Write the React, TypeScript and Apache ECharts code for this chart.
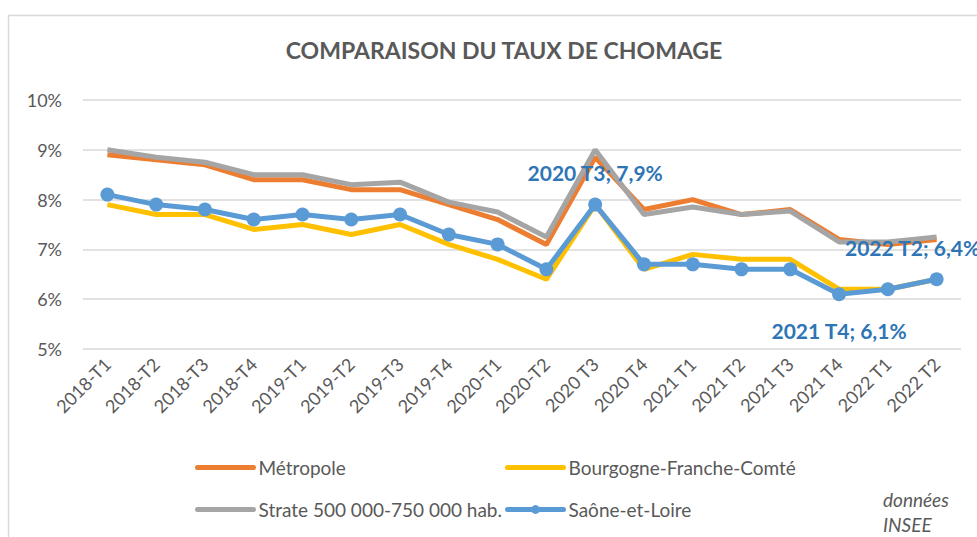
import React, { useEffect, useRef } from "react";
import * as echarts from "echarts";

const categories = [
  "2018-T1", "2018-T2", "2018-T3", "2018-T4",
  "2019-T1", "2019-T2", "2019-T3", "2019-T4",
  "2020-T1", "2020-T2", "2020 T3", "2020 T4",
  "2021 T1", "2021 T2", "2021 T3", "2021 T4",
  "2022 T1", "2022 T2",
];

const metropole = [8.9, 8.8, 8.7, 8.4, 8.4, 8.2, 8.2, 7.9, 7.6, 7.1, 8.85, 7.8, 8.0, 7.7, 7.8, 7.2, 7.1, 7.2];
const bfc = [7.9, 7.7, 7.7, 7.4, 7.5, 7.3, 7.5, 7.1, 6.8, 6.4, 7.9, 6.6, 6.9, 6.8, 6.8, 6.2, 6.2, 6.4];
const strate = [9.0, 8.85, 8.75, 8.5, 8.5, 8.3, 8.35, 7.95, 7.75, 7.25, 9.0, 7.7, 7.85, 7.7, 7.77, 7.15, 7.15, 7.25];
const saone = [8.1, 7.9, 7.8, 7.6, 7.7, 7.6, 7.7, 7.3, 7.1, 6.6, 7.9, 6.7, 6.7, 6.6, 6.6, 6.1, 6.2, 6.4];

const yTicks = [5, 6, 7, 8, 9, 10];

const labelled: Record<number, number[]> = {
  10: [0, -32],
  15: [0, 36],
  17: [-24, -32],
};

const FONT = "Lato, 'Liberation Sans', sans-serif";
const GREY_TEXT = "#595959";

export default function App() {
  const ref = useRef<HTMLDivElement>(null);

  useEffect(() => {
    if (!ref.current) return;
    const chart = echarts.init(ref.current, undefined, { renderer: "svg" });

    const saoneData = saone.map((v, i) => {
      if (labelled[i]) {
        return {
          value: v,
          label: {
            show: true,
            position: "inside",
            offset: labelled[i],
            formatter: () => `${categories[i]}; ${v.toFixed(1).replace(".", ",")}%`,
            color: "#2E75B6",
            fontSize: 21,
            fontWeight: "bold",
            fontFamily: FONT,
          },
        };
      }
      return v;
    });

    const legendBase = {
      itemWidth: 56,
      itemHeight: 11,
      padding: 0,
      textStyle: { color: GREY_TEXT, fontSize: 19, fontFamily: FONT },
      orient: "horizontal",
      lineStyle: { width: 5, cap: "round" },
    };
    const noSymbol = { opacity: 0 };

    chart.setOption({
      animation: false,
      backgroundColor: "#ffffff",
      textStyle: { fontFamily: FONT },
      title: {
        text: "COMPARAISON DU TAUX DE CHOMAGE",
        left: 499,
        top: 33,
        textAlign: "center",
        textStyle: { color: GREY_TEXT, fontSize: 23, fontWeight: "bold", fontFamily: FONT },
      },
      grid: { left: 83, right: 16, top: 100, bottom: 188, containLabel: false },
      xAxis: {
        type: "category",
        data: categories,
        boundaryGap: true,
        axisLine: { show: false },
        axisTick: { show: false },
        axisLabel: {
          rotate: 45,
          margin: 12,
          color: GREY_TEXT,
          fontSize: 18,
          fontFamily: FONT,
          interval: 0,
        },
      },
      yAxis: {
        type: "value",
        min: yTicks[0],
        max: yTicks[yTicks.length - 1],
        interval: 1,
        axisLine: { show: false },
        axisTick: { show: false },
        splitLine: { lineStyle: { color: "#d9d9d9", width: 1.5 } },
        axisLabel: {
          formatter: (v: number) => `${v}%`,
          color: GREY_TEXT,
          fontSize: 18,
          fontFamily: FONT,
          margin: 21,
        },
      },
      legend: [
        { ...legendBase, left: 195, top: 458, data: ["Métropole"], itemStyle: noSymbol },
        { ...legendBase, left: 505, top: 458, data: ["Bourgogne-Franche-Comté"], itemStyle: noSymbol },
        { ...legendBase, left: 195, top: 500, data: ["Strate 500 000-750 000 hab."], itemStyle: noSymbol },
        { ...legendBase, left: 505, top: 500, data: ["Saône-et-Loire"] },
      ],
      graphic: [
        {
          type: "rect",
          shape: { x: 8.5, y: 15.5, width: 1000, height: 600 },
          style: { fill: "none", stroke: "#d9d9d9", lineWidth: 1.5 },
          silent: true,
        },
        {
          type: "text",
          x: 883,
          y: 487,
          style: {
            text: "données\nINSEE",
            fill: GREY_TEXT,
            fontSize: 19,
            fontStyle: "italic",
            fontFamily: FONT,
            lineHeight: 25,
          },
        },
      ],
      series: [
        {
          name: "Métropole",
          type: "line",
          data: metropole,
          symbol: "none",
          lineStyle: { color: "#ED7D31", width: 5 },
          itemStyle: { color: "#ED7D31" },
          z: 2,
        },
        {
          name: "Bourgogne-Franche-Comté",
          type: "line",
          data: bfc,
          symbol: "none",
          lineStyle: { color: "#FFC000", width: 5 },
          itemStyle: { color: "#FFC000" },
          z: 3,
        },
        {
          name: "Strate 500 000-750 000 hab.",
          type: "line",
          data: strate,
          symbol: "none",
          lineStyle: { color: "#A5A5A5", width: 5 },
          itemStyle: { color: "#A5A5A5" },
          z: 4,
        },
        {
          name: "Saône-et-Loire",
          type: "line",
          data: saoneData,
          symbol: "circle",
          symbolSize: 14,
          showAllSymbol: true,
          lineStyle: { color: "#5B9BD5", width: 5 },
          itemStyle: { color: "#5B9BD5" },
          z: 5,
        },
      ],
    });

    return () => chart.dispose();
  }, []);

  return (
    <div
      ref={ref}
      style={{ position: "fixed", left: 0, top: 0, width: 977, height: 537 }}
    />
  );
}
